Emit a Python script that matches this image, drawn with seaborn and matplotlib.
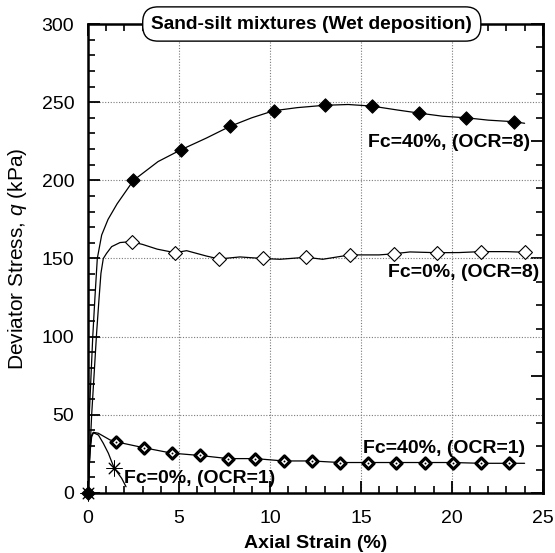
import matplotlib
matplotlib.use("Agg")
import matplotlib.pyplot as plt
from matplotlib.ticker import MultipleLocator
import seaborn as sns

# ---- Fc=40%, OCR=8 (filled diamonds) ----
a_curve_strain = [0, 0.07, 0.26, 0.38, 0.51, 0.75, 1.1, 1.6, 2.5, 3.85, 5.1, 6.5, 7.8, 9.0, 10.2,
                  11.5, 13.0, 14.3, 15.6, 17.0, 18.2, 19.5, 20.8, 22.0, 23.4, 24.0]
a_curve_q = [0, 50, 100, 125, 150, 165, 175, 185, 200, 212, 219.5, 227, 234.5, 240, 244.5,
             246.5, 248, 248.5, 247.5, 245, 243, 241, 240, 238.5, 237.5, 236.5]
a_mark_strain = [0, 2.5, 5.1, 7.8, 10.2, 13.0, 15.6, 18.2, 20.8, 23.4]
a_mark_q = [0, 200, 219.5, 234.5, 244.5, 248, 247.5, 243, 240, 237.5]

# ---- Fc=0%, OCR=8 (open diamonds) ----
b_curve_strain = [0, 0.2, 0.47, 0.6, 0.71, 0.84, 1.02, 1.3, 1.76, 2.36, 3.0, 3.8, 4.78, 5.42,
                  6.5, 7.2, 8.35, 9.6, 10.55, 12.0, 12.9, 14.4, 16.0, 16.8, 17.7, 19.2, 20.4,
                  21.6, 23.0, 24.0]
b_curve_q = [0, 50, 102, 123.5, 140.5, 150, 153.3, 157.6, 160.2, 160.8, 159, 156, 153.7, 155,
             151.6, 149.7, 151, 150, 149.5, 150.8, 149.5, 152.3, 152.3, 153, 154.2, 153.7, 153.8,
             154.4, 154.4, 154]
b_mark_strain = [2.4, 4.8, 7.2, 9.6, 12.0, 14.4, 16.8, 19.2, 21.6, 24.0]
b_mark_q = [160.8, 153.7, 149.7, 150.3, 150.8, 152.3, 153, 153.7, 154.4, 154]

# ---- Fc=40%, OCR=1 (outlined diamonds) ----
c_curve_strain = [0, 0.05, 0.12, 0.2, 0.29, 0.57, 1.2, 1.52, 3.05, 4.6, 6.15, 7.7, 9.2, 10.75,
                  12.3, 13.85, 15.4, 16.95, 18.5, 20.05, 21.6, 23.15, 24.0]
c_curve_q = [0, 15, 30, 37, 38.8, 38.2, 34, 32.8, 29, 25.5, 24, 22, 22, 20.5,
             20.5, 19.5, 19.5, 19.5, 19.5, 19.5, 19, 19, 19]
c_mark_strain = [1.52, 3.05, 4.6, 6.15, 7.7, 9.2, 10.75, 12.3, 13.85, 15.4, 16.95, 18.5,
                 20.05, 21.6, 23.15]
c_mark_q = [32.8, 29, 25.5, 24, 22, 22, 20.5, 20.5, 19.5, 19.5, 19.5, 19.5, 19.5, 19, 19]

# ---- Fc=0%, OCR=1 (asterisks) ----
d_curve_strain = [0, 0.1, 0.2, 0.3, 0.57, 0.84, 1.12, 1.3, 1.45, 1.85, 2.09]
d_curve_q = [0, 25, 36, 38.5, 37.1, 31.8, 25.4, 20, 15.8, 9.4, 4]
d_mark_strain = [0, 1.45]
d_mark_q = [0, 15.8]

series_labels = ["Fc=40%, (OCR=8)", "Fc=0%, (OCR=8)", "Fc=40%, (OCR=1)", "Fc=0%, (OCR=1)"]
label_pos = [(15.4, 224.5), (16.5, 141.3), (15.1, 28.3), (1.98, 9.0)]
title_text = "Sand-silt mixtures (Wet deposition)"

sns.set_theme(style="white")
plt.rcParams["font.family"] = ["Liberation Sans", "DejaVu Sans"]
plt.rcParams["mathtext.fontset"] = "custom"
plt.rcParams["mathtext.rm"] = "Liberation Sans"
plt.rcParams["mathtext.it"] = "Liberation Sans:italic"
for key in ("text.color", "axes.labelcolor", "xtick.color", "ytick.color",
            "xtick.labelcolor", "ytick.labelcolor", "axes.edgecolor"):
    plt.rcParams[key] = "black"

fig = plt.figure(figsize=(5.55, 5.53), dpi=100)
ax = fig.add_axes([0.1586, 0.1085, 0.8194, 0.8481])

line_kw = dict(sort=False, estimator=None, color="black", linewidth=0.9, ax=ax, legend=False)
sns.lineplot(x=a_curve_strain, y=a_curve_q, **line_kw)
sns.lineplot(x=b_curve_strain, y=b_curve_q, **line_kw)
sns.lineplot(x=c_curve_strain, y=c_curve_q, **line_kw)
sns.lineplot(x=d_curve_strain, y=d_curve_q, **line_kw)

sns.scatterplot(x=b_mark_strain, y=b_mark_q, marker="D", s=50, color="white",
                edgecolor="black", linewidth=0.8, ax=ax, zorder=4, clip_on=False)
sns.scatterplot(x=a_mark_strain, y=a_mark_q, marker="D", s=46, color="black",
                edgecolor="black", linewidth=0.8, ax=ax, zorder=5, clip_on=False)
sns.scatterplot(x=c_mark_strain, y=c_mark_q, marker="D", s=32, color="white",
                edgecolor="black", linewidth=2.3, ax=ax, zorder=4)
sns.scatterplot(x=c_mark_strain, y=c_mark_q, marker="o", s=2, color="black",
                edgecolor="black", linewidth=0, ax=ax, zorder=5)
sns.scatterplot(x=d_mark_strain, y=d_mark_q, marker=(8, 2, 0), s=120, color="black",
                linewidth=0.7, ax=ax, zorder=4, clip_on=False)

ax.set_xlim(0, 25)
ax.set_ylim(0, 300)
ax.xaxis.set_major_locator(MultipleLocator(5))
ax.xaxis.set_minor_locator(MultipleLocator(1))
ax.yaxis.set_major_locator(MultipleLocator(50))
ax.yaxis.set_minor_locator(MultipleLocator(10))
ax.grid(True, which="major", color="#7a7a7a", linestyle=(0, (1, 1.5)), linewidth=0.8)
ax.set_axisbelow(True)

ax.tick_params(which="both", direction="in", top=True, right=False, bottom=True, left=True,
               color="black", labelsize=14, labelcolor="black")
ax.tick_params(which="major", length=8.5, width=1.3)
ax.tick_params(which="minor", length=5, width=1.2)
ax.tick_params(axis="x", which="major", pad=12)
ax.tick_params(axis="y", which="major", pad=10)

# right-hand axis with its own tick spacing
sec = ax.secondary_yaxis("right")
sec.yaxis.set_major_locator(MultipleLocator(75))
sec.yaxis.set_minor_locator(MultipleLocator(15))
sec.tick_params(which="both", direction="in", labelright=False, color="black")
sec.tick_params(which="major", length=8.5, width=1.3)
sec.tick_params(which="minor", length=5, width=1.2)
sec.spines["right"].set_linewidth(1.8)
sec.spines["right"].set_color("black")

for sp in ax.spines.values():
    sp.set_linewidth(1.8)
    sp.set_color("black")
    sp.set_visible(True)

ax.set_xlabel("Axial Strain (%)", fontsize=14, fontweight="bold", labelpad=6)
ax.set_ylabel("Deviator Stress, $q$ (kPa)", fontsize=15, labelpad=9)

for txt, (lx, ly) in zip(series_labels, label_pos):
    ax.text(lx, ly, txt, ha="left", va="center", fontsize=14, fontweight="bold",
            color="black", zorder=6)

ax.text(12.3, 300, title_text, ha="center", va="center", fontsize=13.8, fontweight="bold",
        zorder=10, clip_on=False,
        bbox=dict(boxstyle="round,pad=0.45,rounding_size=0.8", fc="white", ec="black", lw=1.0))

fig.savefig("out.png", dpi=100)
